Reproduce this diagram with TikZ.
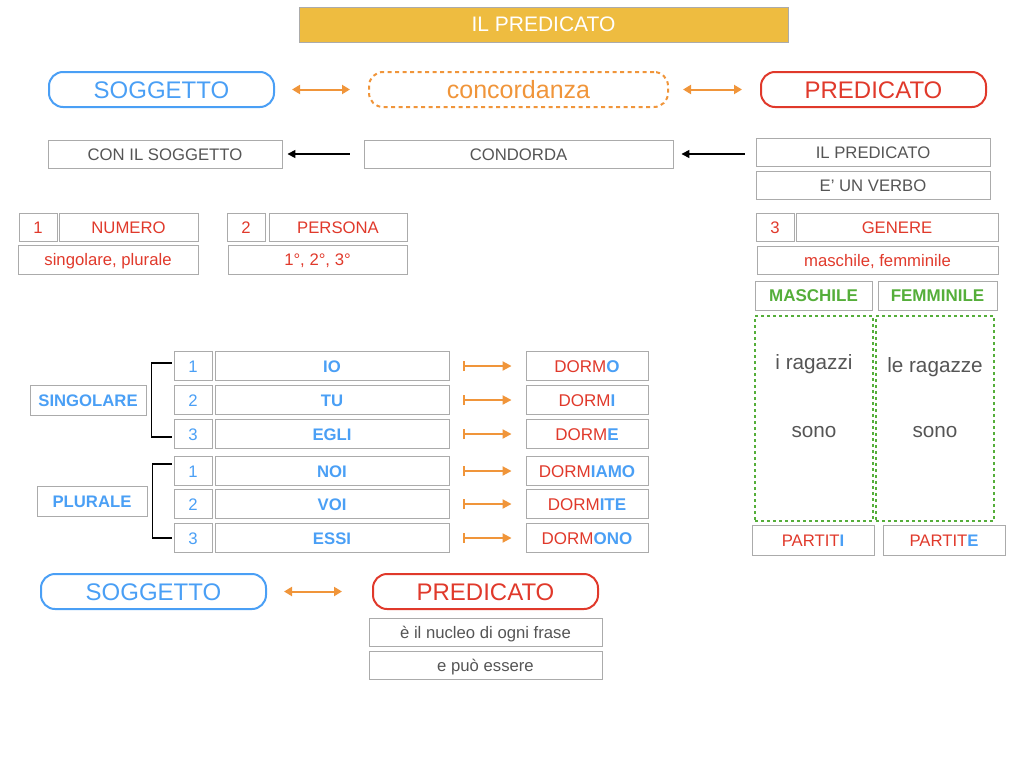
\documentclass[tikz,border=0pt]{standalone}
\usepackage{fontspec}
\setmainfont{Liberation Sans}
\usetikzlibrary{arrows.meta}
\definecolor{cblue}{HTML}{4A9FF5}
\definecolor{cred}{HTML}{E0392B}
\definecolor{corange}{HTML}{F0953A}
\definecolor{cgreen}{HTML}{55AE3A}
\definecolor{bgray}{HTML}{ABABAB}
\definecolor{tgray}{HTML}{555555}
\definecolor{cgold}{HTML}{EEBC40}
\newcommand\fsz[1]{\fontsize{#1}{#1}\selectfont}
\tikzset{
  box/.style={draw=bgray, line width=0.9pt, inner sep=0pt, text=tgray, font=\fsz{16.7}, text height=12pt, text depth=0pt},
  rbox/.style={box, text=cred},
  bbox/.style={box, text=cblue},
  gbox/.style={box, text=cgreen, font=\fsz{17}\bfseries},
  pill/.style={rounded corners=14pt, line width=2pt, inner sep=0pt, minimum width=225pt, minimum height=35pt, font=\fsz{24}, text height=17.2pt, text depth=0pt},
  oarrow/.style={draw=corange, line width=2pt, {Triangle[length=8pt,width=9pt]}-{Triangle[length=8pt,width=9pt]}},
  karrow/.style={draw=black, line width=1.6pt, -{Triangle[length=8pt,width=8pt]}},
  marrow/.style={draw=corange, line width=2pt, {Bar[width=10pt,line width=1.6pt]}-{Triangle[length=9pt,width=9pt]}},
  bracket/.style={draw=black, line width=1.8pt},
  gdash/.style={draw=cgreen, line width=2pt, dash pattern=on 3pt off 3pt},
  plain/.style={inner sep=0pt, text=tgray, font=\fsz{20.7}}
}
\begin{document}
\begin{tikzpicture}[x=1pt,y=-1pt]
\useasboundingbox (0,0) rectangle (1024,768);
% title
\node[box, fill=cgold, text=white, font=\fsz{21}, text height=15pt, minimum width=489pt, minimum height=35pt] (title) at (543.5,24.5) {IL PREDICATO};
% row 1
\node[pill, draw=cblue, text=cblue] (sogg1) at (161.5,89.5) {SOGGETTO};
\node[pill, draw=corange, text=corange, dash pattern=on 4pt off 3.5pt, minimum width=299pt, font=\fsz{25}] (conc) at (518.5,89.5) {concordanza};
\node[pill, draw=cred, text=cred] (pred1) at (873.5,89.5) {PREDICATO};
\draw[oarrow, shorten <=17pt, shorten >=18pt] (sogg1.east) -- (conc.west);
\draw[oarrow, shorten <=14pt, shorten >=18pt] (conc.east) -- (pred1.west);
% row 2
\node[box, minimum width=234pt, minimum height=28pt] (con) at (165,154) {CON IL SOGGETTO};
\node[box, minimum width=309pt, minimum height=28pt] (condorda) at (518.5,154) {CONDORDA};
\node[box, minimum width=234pt, minimum height=28pt] (ilpred) at (873,152) {IL PREDICATO};
\node[box, minimum width=234pt, minimum height=28pt] (verbo) at (873,185) {E’ UN VERBO};
\draw[karrow, shorten <=14pt, shorten >=5pt] (condorda.west) -- (con.east);
\draw[karrow, shorten <=11pt, shorten >=8pt] (condorda.east -| ilpred.west) -- (condorda.east);
% row 3
\node[rbox, minimum width=38pt, minimum height=28pt] (n1) at (38,227) {1};
\node[rbox, minimum width=139pt, minimum height=28pt] (numero) at (128.5,227) {NUMERO};
\node[rbox, minimum width=180pt, minimum height=29pt] (singpl) at (108,259.5) {singolare, plurale};
\node[rbox, minimum width=38pt, minimum height=28pt] (n2) at (246,227) {2};
\node[rbox, minimum width=138pt, minimum height=28pt] (persona) at (338,227) {PERSONA};
\node[rbox, minimum width=179pt, minimum height=29pt] (ord) at (317.5,259.5) {1°, 2°, 3°};
\node[rbox, minimum width=38pt, minimum height=28pt] (n3) at (775,227) {3};
\node[rbox, minimum width=202pt, minimum height=28pt] (genere) at (897,227) {GENERE};
\node[rbox, minimum width=241pt, minimum height=28pt] (mf) at (877.5,260) {maschile, femminile};
\node[gbox, minimum width=117pt, minimum height=29pt] (masch) at (813.5,295.5) {MASCHILE};
\node[gbox, minimum width=119pt, minimum height=29pt] (femm) at (937.5,295.5) {FEMMINILE};
\node[gdash, minimum width=118pt, minimum height=205pt, inner sep=0pt] (dm) at (814,418.5) {};
\node[gdash, minimum width=118pt, minimum height=205pt, inner sep=0pt] (df) at (935,418.5) {};
\node[plain] (ragazzi) at (814,364) {i ragazzi};
\node[plain] (sono1) at (814,432) {sono};
\node[plain] (ragazze) at (935,367) {le ragazze};
\node[plain] (sono2) at (935,432) {sono};
\node[rbox, minimum width=122pt, minimum height=30pt] (partiti) at (813,540) {PARTIT\textcolor{cblue}{\bfseries I}};
\node[rbox, minimum width=122pt, minimum height=30pt] (partite) at (944,540) {PARTIT\textcolor{cblue}{\bfseries E}};
% conjugation
\foreach \i/\y/\n/\p/\r/\s in {1/366/1/IO/DORM/O, 2/400/2/TU/DORM/I, 3/434/3/EGLI/DORM/E, 4/471/1/NOI/DORM/IAMO, 5/504/2/VOI/DORM/ITE, 6/538/3/ESSI/DORM/ONO}{
  \node[bbox, minimum width=38pt, minimum height=29pt] (num\i) at (193,\y) {\n};
  \node[bbox, font=\fsz{16.7}\bfseries, minimum width=234pt, minimum height=29pt] (pron\i) at (332,\y) {\p};
  \node[rbox, font=\fsz{17}, minimum width=122pt, minimum height=29pt] (dorm\i) at (587,\y) {\r\textcolor{cblue}{\bfseries\s}};
  \draw[marrow, shorten <=14pt, shorten >=14pt] (pron\i.east) -- (dorm\i.west);
}
\node[bbox, font=\fsz{16.7}\bfseries, minimum width=116pt, minimum height=30pt] (sing) at (88,400) {SINGOLARE};
\node[bbox, font=\fsz{16.7}\bfseries, minimum width=110pt, minimum height=30pt] (plur) at (92,501) {PLURALE};
\draw[bracket] ([xshift=-2pt,yshift=3pt]num1.west) -- ++(-20,0) |- ([xshift=-2pt,yshift=-3pt]num3.west);
\draw[bracket] ([xshift=-2pt,yshift=7pt]num4.west) -- ++(-19,0) |- ([xshift=-2pt]num6.west);
% bottom
\node[pill, draw=cblue, text=cblue] (sogg2) at (153.5,591.5) {SOGGETTO};
\node[pill, draw=cred, text=cred] (pred2) at (485.5,591.5) {PREDICATO};
\draw[oarrow, shorten <=17pt, shorten >=30pt] (sogg2.east) -- (pred2.west);
\node[box, minimum width=233pt, minimum height=28pt] (nucleo) at (485.5,632) {è il nucleo di ogni frase};
\node[box, minimum width=233pt, minimum height=28pt] (puo) at (485.5,665) {e può essere};
\end{tikzpicture}
\end{document}
